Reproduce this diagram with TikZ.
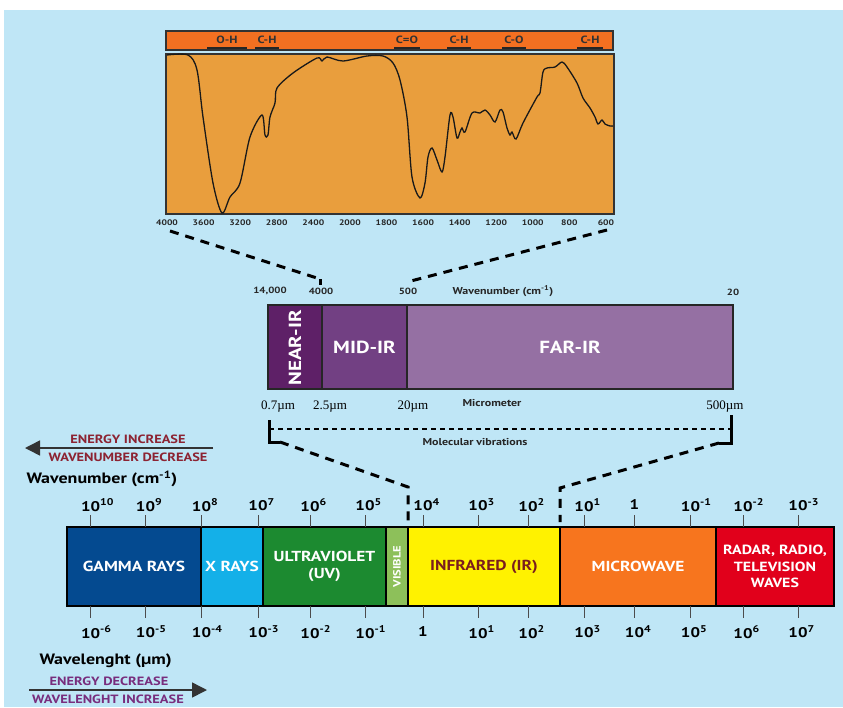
\documentclass[tikz,border=0pt]{standalone}
\usepackage{fontspec}
\setmainfont{PT Sans}[FakeStretch=1.2]
\newfontfamily\serif{Liberation Serif}
\usetikzlibrary{calc,arrows.meta}
\definecolor{sky}{RGB}{191,230,246}
\definecolor{hdr}{RGB}{243,112,33}
\definecolor{spec}{RGB}{233,158,61}
\definecolor{nearir}{RGB}{94,32,103}
\definecolor{midir}{RGB}{114,64,131}
\definecolor{farir}{RGB}{149,112,163}
\definecolor{gam}{RGB}{4,74,144}
\definecolor{xray}{RGB}{20,176,232}
\definecolor{uv}{RGB}{28,138,48}
\definecolor{vis}{RGB}{141,192,90}
\definecolor{ir}{RGB}{255,242,0}
\definecolor{micro}{RGB}{247,117,30}
\definecolor{radio}{RGB}{225,0,27}
\definecolor{wine}{RGB}{140,35,50}
\definecolor{plum}{RGB}{120,45,125}
\definecolor{irtext}{RGB}{122,30,30}
\newcommand{\ex}[1]{\rlap{\textsuperscript{#1}}}
\newcommand{\bt}{527}
\newcommand{\bb}{606}

\tikzset{
  conn/.style={line width=3pt,dash pattern=on 9pt off 7pt},
  thin dash/.style={line width=1.4pt,dash pattern=on 5pt off 4pt},
  band/.style={draw=black,line width=2.5pt},
  lab/.style={font=\bfseries\fontsize{14.5}{16.5}\selectfont,text=white,align=center},
  irlab/.style={font=\bfseries\fontsize{17.5}{18}\selectfont,text=white},
  tiny/.style={font=\bfseries\fontsize{9}{10}\selectfont,text=black!85},
  small/.style={font=\bfseries\fontsize{10}{11}\selectfont,text=black!85},
  mu/.style={font=\serif\fontsize{13}{14}\selectfont},
  scl/.style={font=\bfseries\fontsize{14}{15}\selectfont},
  tickline/.style={line width=0.8pt,black!70},
  sideline/.style={font=\bfseries\fontsize{12}{13}\selectfont},
  uline/.style={line width=2pt,black!85}
}

\begin{document}
\begin{tikzpicture}[x=1pt,y=-1pt]
\useasboundingbox (0,0) rectangle (843,707);
\fill[sky] (4,10) rectangle (843,707);

\filldraw[fill=hdr,draw=black!80,line width=1.2pt] (166,31) rectangle (613,50);
\foreach \x/\t/\w [count=\i] in {227/O-H/20,267/C-H/12,407/C=O/13,459/C-H/12,514/C-O/12,590/C-H/13}{
  \node[small,font=\bfseries\fontsize{10.5}{11}\selectfont,text=black!80] (b\i) at (\x,39.5) {\t};
  \draw[uline] (\x-\w,47.5) -- (\x+\w,47.5);
}
\filldraw[fill=spec,draw=black!80,line width=1.2pt] (166,54) rectangle (614,214);
\draw[line width=1.3pt,black!90] plot[smooth,tension=0.5] coordinates {
  (167,55) (188,55) (197,70) (203,117) (213,183) (222,213) (230,197) (240,183)
  (250,137) (262,115) (265,135) (268,135) (270,117) (275,103) (277,88) (293,73)
  (317,58) (322,61) (327,57) (343,61) (367,56) (383,56) (393,63) (400,80)
  (407,117) (412,177) (420,198) (425,183) (428,157) (432,148) (437,160) (442,172)
  (445,157) (450,115) (453,117) (457,138) (460,132) (462,128) (465,132) (472,113)
  (480,113) (485,110) (490,115) (495,122) (500,110) (503,112) (507,128) (510,135)
  (512,132) (516,139) (523,123) (537,97) (540,93) (543,72) (547,68) (555,67)
  (562,62) (567,67) (577,83) (583,98) (590,108) (595,117) (598,124) (602,120)
  (605,124) (610,126) (613,126)};
\foreach \t [count=\i from 0] in {4000,3600,3200,2800,2400,2000,1800,1600,1400,1200,1000,800,600}
  \node[tiny,font=\bfseries\fontsize{8}{9}\selectfont] (w\i) at (167+36.58*\i,222.5) {\t};

\coordinate (s1) at (170,231);
\coordinate (s2) at (607,230);
\coordinate (n1) at (320,279);
\coordinate (n2) at (407,282);
\draw[conn] (s1) -- (n1);
\draw[line width=3pt] (n1) -- ++(0,6);
\draw[conn] (s2) -- (n2);

\node[tiny] (k1) at (270,291) {14,000};
\node[tiny] (k2) at (321,291) {4000};
\node[tiny] (k3) at (408,291) {500};
\node[small] (k4) at (503,291) {Wavenumber (cm\textsuperscript{-1})};
\node[tiny] (k5) at (733,292) {20};

\filldraw[fill=nearir,draw=black!85,line width=1.5pt] (268,305) rectangle (322,389);
\filldraw[fill=midir,draw=black!85,line width=1.5pt] (322,305) rectangle (407,389);
\filldraw[fill=farir,draw=black!85,line width=1.5pt] (407,305) rectangle (733,389);
\node[irlab,rotate=90] (near) at (295,348) {NEAR-IR};
\node[irlab] (mid) at (364.5,347) {MID-IR};
\node[irlab] (far) at (570,347) {FAR-IR};

\node[mu] (m1) at (278,407) {0.7µm};
\node[mu] (m2) at (330,407) {2.5µm};
\node[mu] (m3) at (413,407) {20µm};
\node[mu] (m4) at (725,407) {500µm};
\node[small] (mic) at (492,403) {Micrometer};

\coordinate (l1) at (269,420);
\coordinate (l2) at (269,442);
\coordinate (l3) at (280,442);
\coordinate (l4) at (408,487);
\coordinate (l5) at (408,524);
\coordinate (r1) at (731,415);
\coordinate (r2) at (731,443);
\coordinate (r3) at (719,443);
\coordinate (r4) at (560,488);
\coordinate (r5) at (560,522);
\draw[line width=3pt] (l1) -- (l2) -- (l3);
\draw[line width=3pt] (r1) -- (r2) -- (r3);
\draw[thin dash] (l1 |- 0,429) -- (r1 |- 0,429);
\draw[conn] (l3) -- (l4) -- (l5);
\draw[conn] (r3) -- (r4) -- (r5);
\node[small] (mol) at (475,442) {Molecular vibrations};

\coordinate (a1) at (213,448);
\coordinate (a2) at (25,448);
\draw[line width=1.5pt,black!80,-{Triangle[length=15pt,width=15pt]}] (a1) -- (a2);
\node[sideline,text=wine] (e1) at (128,439.5) {ENERGY INCREASE};
\node[sideline,text=wine] (e2) at (128,457) {WAVENUMBER DECREASE};
\node[scl,anchor=west,font=\bfseries\fontsize{15}{16}\selectfont] (wn) at (23,479) {Wavenumber (cm\textsuperscript{-1})};

\filldraw[band,fill=gam] (67,\bt) rectangle (201,\bb);
\filldraw[band,fill=xray] (201,\bt) rectangle (263,\bb);
\filldraw[band,fill=uv] (263,\bt) rectangle (386,\bb);
\filldraw[band,fill=vis] (386,\bt) rectangle (408,\bb);
\filldraw[band,fill=ir] (408,\bt) rectangle (560,\bb);
\filldraw[band,fill=micro] (560,\bt) rectangle (716,\bb);
\filldraw[band,fill=radio] (716,\bt) rectangle (834,\bb);
\node[lab] (gamma) at (134,566.5) {GAMMA RAYS};
\node[lab] (xr) at (232,566.5) {X RAYS};
\node[lab] (ultra) at (324.5,566.5) {ULTRAVIOLET\\(UV)};
\node[lab,rotate=90,font=\bfseries\fontsize{10.5}{11}\selectfont] (visible) at (397,566.5) {VISIBLE};
\node[lab,text=irtext] (infra) at (484,566.5) {INFRARED (IR)};
\node[lab] (mw) at (638,566.5) {MICROWAVE};
\node[lab,font=\bfseries\fontsize{13.3}{16.5}\selectfont] (rad) at (775,566.5) {RADAR, RADIO,\\TELEVISION\\WAVES};

\foreach \x/\a/\b [count=\i] in {
  90.6/{10\ex{10}}/{10\ex{-6}},
  145.5/{10\ex{9}}/{10\ex{-5}},
  201.5/{10\ex{8}}/{10\ex{-4}},
  258/{10\ex{7}}/{10\ex{-3}},
  310/{10\ex{6}}/{10\ex{-2}},
  365/{10\ex{5}}/{10\ex{-1}},
  423/{10\ex{4}}/{1},
  478/{10\ex{3}}/{10\ex{1}},
  528/{10\ex{2}}/{10\ex{2}},
  584/{10\ex{1}}/{10\ex{3}},
  634.5/{1}/{10\ex{4}},
  690.5/{10\ex{-1}}/{10\ex{5}},
  743/{10\ex{-2}}/{10\ex{6}},
  798/{10\ex{-3}}/{10\ex{7}}}{
  \draw[tickline] (\x,515) -- (\x,\bt);
  \draw[tickline] (\x,\bb) -- (\x,618);
  \node[scl] (up\i) at (\x,505) {\a};
  \node[scl] (dn\i) at (\x,632) {\b};
}

\node[scl,anchor=west,font=\bfseries\fontsize{15}{16}\selectfont] (wl) at (36,661) {Wavelenght (µm)};
\coordinate (c1) at (29,690);
\coordinate (c2) at (207,690);
\draw[line width=1.5pt,black!80,-{Triangle[length=15pt,width=15pt]}] (c1) -- (c2);
\node[sideline,text=plum] (d1) at (109,681.5) {ENERGY DECREASE};
\node[sideline,text=plum] (d2) at (108,699) {WAVELENGHT INCREASE};
\end{tikzpicture}
\end{document}
